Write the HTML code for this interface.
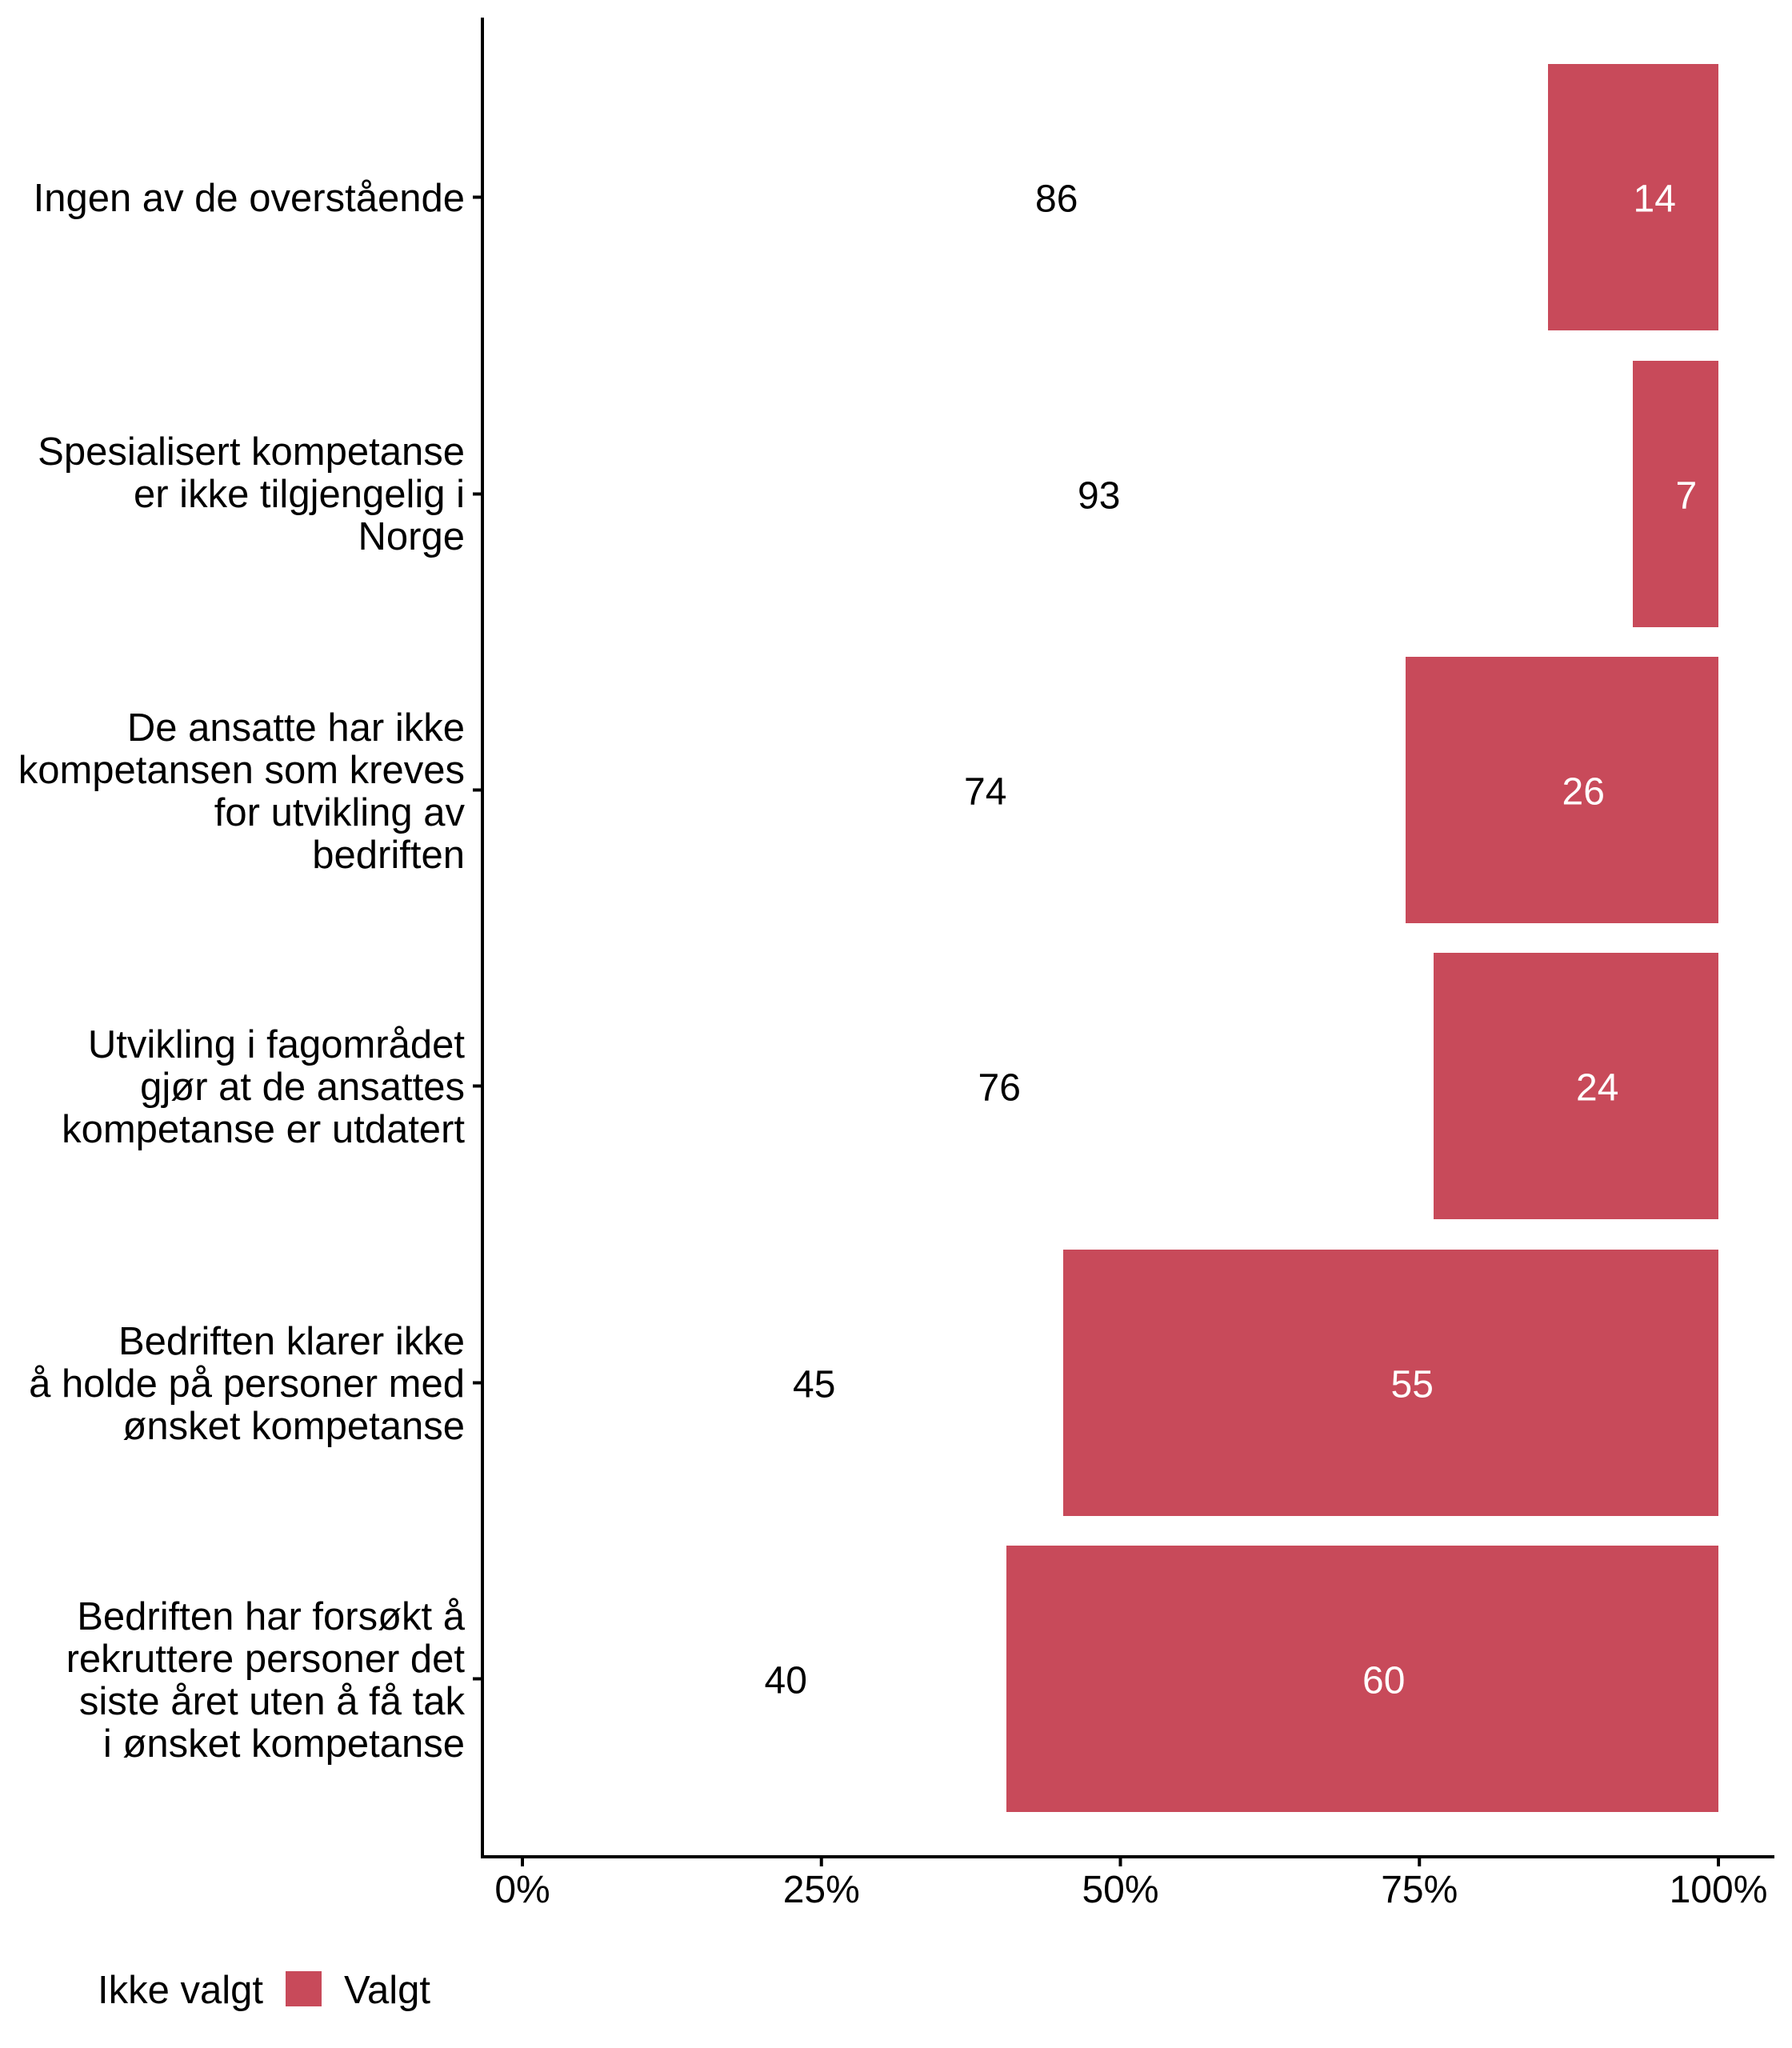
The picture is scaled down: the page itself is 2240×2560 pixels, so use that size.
<!DOCTYPE html>
<html>
<head>
<meta charset="utf-8">
<style>
html,body{margin:0;padding:0;background:#fff;}
svg{display:block;}
text{font-family:"Liberation Sans",Arial,sans-serif;font-size:48px;}
.yl text{font-size:49px;}
.lg{font-size:49px;}
</style>
</head>
<body>
<svg width="2240" height="2560" viewBox="0 0 2240 2560" xmlns="http://www.w3.org/2000/svg">
<rect width="2240" height="2560" fill="#fff"/>
<!-- bars -->
<g fill="#c84a5a">
<rect x="1935" y="80" width="213" height="333"/>
<rect x="2041" y="451" width="107" height="333"/>
<rect x="1757" y="821" width="391" height="333"/>
<rect x="1792" y="1191" width="356" height="333"/>
<rect x="1329" y="1562" width="819" height="333"/>
<rect x="1258" y="1932" width="890" height="333"/>
</g>
<!-- value labels -->
<g fill="#000">
<text x="1294" y="264.5">86</text>
<text x="1347" y="635.5">93</text>
<text x="1205" y="1005.5">74</text>
<text x="1222.5" y="1375.5">76</text>
<text x="991" y="1746.5">45</text>
<text x="955.5" y="2116.5">40</text>
</g>
<g fill="#fff">
<text x="2041.5" y="264.5">14</text>
<text x="2094.5" y="635.5">7</text>
<text x="1952.5" y="1005.5">26</text>
<text x="1970" y="1375.5">24</text>
<text x="1738.5" y="1746.5">55</text>
<text x="1703" y="2116.5">60</text>
</g>
<!-- axes -->
<line x1="603" y1="22" x2="603" y2="2323" stroke="#000" stroke-width="4"/>
<line x1="601" y1="2321" x2="2218" y2="2321" stroke="#000" stroke-width="4"/>
<!-- y ticks -->
<g stroke="#000" stroke-width="4">
<line x1="591" y1="246.5" x2="603" y2="246.5"/>
<line x1="591" y1="617.5" x2="603" y2="617.5"/>
<line x1="591" y1="987.5" x2="603" y2="987.5"/>
<line x1="591" y1="1357.5" x2="603" y2="1357.5"/>
<line x1="591" y1="1728.5" x2="603" y2="1728.5"/>
<line x1="591" y1="2098.5" x2="603" y2="2098.5"/>
<!-- x ticks -->
<line x1="653" y1="2321" x2="653" y2="2333"/>
<line x1="1026.75" y1="2321" x2="1026.75" y2="2333"/>
<line x1="1400.5" y1="2321" x2="1400.5" y2="2333"/>
<line x1="1774.25" y1="2321" x2="1774.25" y2="2333"/>
<line x1="2148" y1="2321" x2="2148" y2="2333"/>
</g>
<!-- x tick labels -->
<g fill="#000" text-anchor="middle">
<text x="653" y="2378">0%</text>
<text x="1026.75" y="2378">25%</text>
<text x="1400.5" y="2378">50%</text>
<text x="1774.25" y="2378">75%</text>
<text x="2148" y="2378">100%</text>
</g>
<!-- y labels -->
<g class="yl" fill="#000" text-anchor="end">
<text x="581" y="264">Ingen av de overstående</text>
<text x="581" y="581">Spesialisert kompetanse</text>
<text x="581" y="634">er ikke tilgjengelig i</text>
<text x="581" y="687">Norge</text>
<text x="581" y="926">De ansatte har ikke</text>
<text x="581" y="979">kompetansen som kreves</text>
<text x="581" y="1032">for utvikling av</text>
<text x="581" y="1085">bedriften</text>
<text x="581" y="1322">Utvikling i fagområdet</text>
<text x="581" y="1375">gjør at de ansattes</text>
<text x="581" y="1428">kompetanse er utdatert</text>
<text x="581" y="1693">Bedriften klarer ikke</text>
<text x="581" y="1746">å holde på personer med</text>
<text x="581" y="1799">ønsket kompetanse</text>
<text x="581" y="2037">Bedriften har forsøkt å</text>
<text x="581" y="2090">rekruttere personer det</text>
<text x="581" y="2143">siste året uten å få tak</text>
<text x="581" y="2196">i ønsket kompetanse</text>
</g>
<!-- legend -->
<text class="lg" x="122" y="2504" fill="#000">Ikke valgt</text>
<rect x="357" y="2464" width="45" height="44" fill="#c84a5a"/>
<text class="lg" x="430" y="2504" fill="#000">Valgt</text>
</svg>
</body>
</html>
